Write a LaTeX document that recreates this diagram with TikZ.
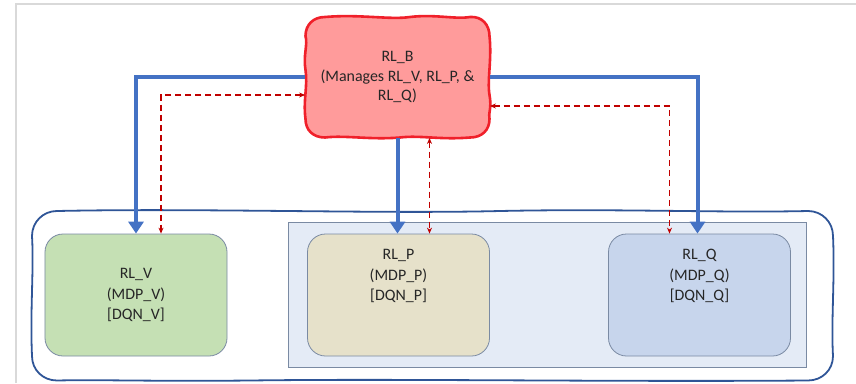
\documentclass[tikz,border=0pt]{standalone}
\usepackage{fontspec}
\setmainfont{Carlito}
\usetikzlibrary{arrows.meta}

\definecolor{bframe}{HTML}{2F5597}
\definecolor{barrow}{HTML}{4472C4}
\definecolor{rdash}{HTML}{C00000}
\definecolor{rbfill}{HTML}{FF9B9B}
\definecolor{rbline}{HTML}{F0202A}
\definecolor{vfill}{HTML}{C5E0B4}
\definecolor{pfill}{HTML}{E6E1CA}
\definecolor{qfill}{HTML}{C7D5EC}
\definecolor{grpfill}{HTML}{E4EBF6}
\definecolor{boxline}{HTML}{7A8AA3}

\begin{document}
\begin{tikzpicture}[x=1bp,y=-1bp,
    rl/.style={rectangle,rounded corners=18bp,draw=boxline,line width=0.8bp,
      minimum width=182bp,minimum height=122bp,align=center,
      font=\fontsize{16}{20.5}\selectfont,text=black!85},
    ctrl/.style={draw=barrow,line width=4bp,-{Triangle[width=15bp,length=12bp]}},
    info/.style={draw=rdash,line width=1.3bp,dash pattern=on 6bp off 4bp,
      {Stealth[length=6bp,width=5bp]}-{Stealth[length=6bp,width=5bp]}}]
    \useasboundingbox (0,0) rectangle (856,383);

    % page edge
    \draw[black!15,line width=2bp] (16,383) -- (16,3.5) -- (856,3.5);

    % groups (hand drawn outer frame)
    \draw[bframe,line width=1.8bp]
      (57,211) .. controls (200,208) and (380,214) .. (500,211)
      .. controls (620,208.5) and (720,213) .. (808,211)
      .. controls (822,211) and (833,222) .. (833,236)
      .. controls (835,280) and (831,320) .. (833,356)
      .. controls (833,370) and (822,380.5) .. (808,380.5)
      .. controls (600,382) and (400,378.5) .. (250,380.5)
      .. controls (150,381.5) and (100,379.5) .. (57,380.5)
      .. controls (43,380.5) and (32,370) .. (32,356)
      .. controls (30,310) and (34,270) .. (32,236)
      .. controls (32,222) and (43,211) .. (57,211) -- cycle;
    \draw[boxline,fill=grpfill,line width=0.8bp] (288,222) rectangle (806,367);

    % hand drawn outline of RL_B
    \draw[rbline,fill=rbfill,line width=2.6bp]
      (325,17) .. controls (360,14) and (390,20) .. (410,17)
      .. controls (435,14) and (455,19.5) .. (470,17)
      .. controls (482,16) and (489.5,25) .. (489.5,36)
      .. controls (492,60) and (487,80) .. (489.5,95)
      .. controls (492,108) and (488,114) .. (489.5,119)
      .. controls (489.5,130) and (482,137.5) .. (470,137.5)
      .. controls (440,140) and (420,135) .. (400,137.5)
      .. controls (370,140) and (345,135) .. (325,137.5)
      .. controls (313,137.5) and (305.5,130) .. (305.5,119)
      .. controls (303,100) and (308,85) .. (305.5,70)
      .. controls (303,55) and (308,45) .. (305.5,36)
      .. controls (305.5,25) and (313,17) .. (325,17) -- cycle;

    \node[rl,fill=vfill] (rlv) at (136,295) {RL\_V\\(MDP\_V)\\[0pt][DQN\_V]};
    \node[rl,fill=pfill,text depth=40bp] (rlp) at (398.5,295) {RL\_P\\(MDP\_P)\\[0pt][DQN\_P]};
    \node[rl,fill=qfill,text depth=40bp] (rlq) at (699.5,295) {RL\_Q\\(MDP\_Q)\\[0pt][DQN\_Q]};
    \node[rl,draw=none,minimum width=184bp,minimum height=121bp,
      font=\fontsize{16}{19.5}\selectfont]
      (rlb) at (397.5,77) {RL\_B\\(Manages RL\_V, RL\_P, \&\\RL\_Q)};

    \draw[ctrl] (rlb.west) -| (rlv.north);
    \draw[ctrl] (rlb.south) -- (rlb.south |- rlp.north);
    \draw[ctrl] (rlb.east) -| ([xshift=-2bp]rlq.north);

    \draw[info] ([yshift=-18bp]rlb.west) -| ([xshift=25bp]rlv.north);
    \draw[info] ([xshift=32bp]rlb.south) -- ([xshift=32bp]rlb.south |- rlp.north);
    \draw[info] ([yshift=-29bp]rlb.east) -| ([xshift=-30bp]rlq.north);
\end{tikzpicture}
\end{document}
